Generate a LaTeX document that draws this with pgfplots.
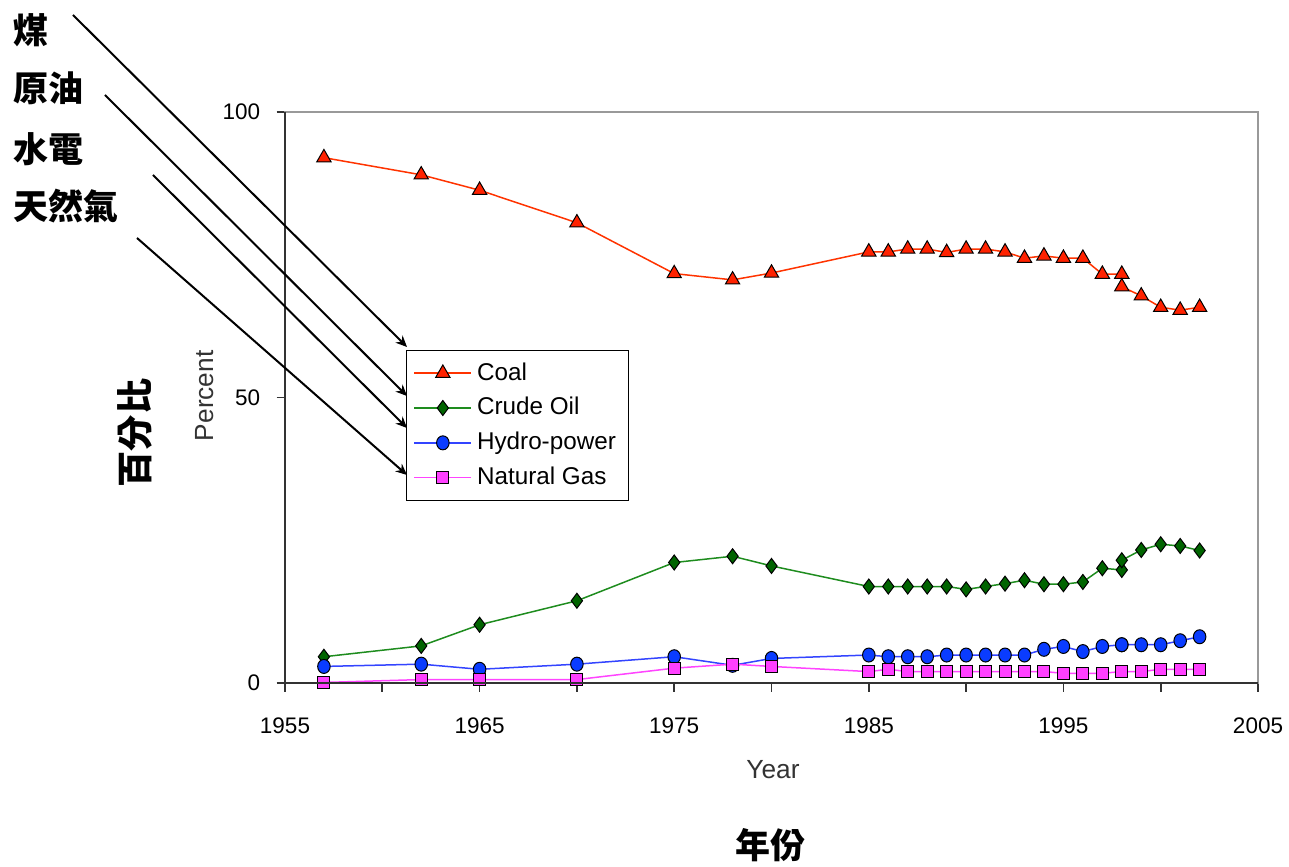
\documentclass[border=0pt]{standalone}
\usepackage{pgfplots}
\pgfplotsset{compat=1.18}
\usepackage{fontspec}
\setmainfont{Liberation Sans}
\newfontfamily\cjk{Noto Sans CJK TC}
\usetikzlibrary{arrows.meta}
\definecolor{coalline}{HTML}{FF3300}
\definecolor{coalfill}{HTML}{FF2200}
\definecolor{oilline}{HTML}{1E8C1E}
\definecolor{oilfill}{HTML}{006400}
\definecolor{hydroline}{HTML}{3344FF}
\definecolor{hydrofill}{HTML}{0A3CFF}
\definecolor{gasline}{HTML}{FF44FF}
\definecolor{gasfill}{HTML}{FF40FF}
\definecolor{framegray}{HTML}{999999}
\definecolor{axisdark}{HTML}{333333}
\begin{document}
\begin{tikzpicture}
\useasboundingbox (0,0) rectangle (515.6pt,-346.8pt);
\begin{axis}[
  at={(114pt,-273.2pt)}, anchor=south west,
  scale only axis, width=389.2pt, height=228.4pt,
  xmin=1955, xmax=2005, ymin=0, ymax=100,
  xtick={1955,1965,...,2005},
  minor xtick={1960,1970,...,2000},
  ytick={0,50,100},
  tick pos=left, tick align=outside,
  major tick length=3.4pt, minor tick length=3.4pt,
  every tick/.style={axisdark, line width=0.7pt},
  every minor tick/.style={axisdark, line width=0.7pt},
  /pgf/number format/assume math mode=true,
  /pgf/number format/1000 sep={},
  xticklabel style={font=\fontsize{9}{10}\selectfont, yshift=-7pt},
  yticklabel style={font=\fontsize{9}{10}\selectfont, xshift=-3pt},
  axis line style={framegray, line width=0.8pt},
  xlabel={Year}, ylabel={Percent},
  label style={font=\fontsize{10.5}{12}\selectfont, text=axisdark},
  xlabel style={at={(axis description cs:0.5015,-0.152)}, anchor=center},
  ylabel style={at={(axis description cs:-0.0822,0.503)}, anchor=center},
  clip mode=individual,
  legend cell align=left,
  legend style={at={(0.124,0.584)}, anchor=north west,
    font=\fontsize{9.7}{11.5}\selectfont, row sep=1.4pt, inner xsep=3pt, inner ysep=3pt},
  legend image code/.code={\draw[mark repeat=2,mark phase=2] plot coordinates {(0cm,0cm) (0.4cm,0cm) (0.8cm,0cm)};},
  after end axis/.code={
    \draw[axisdark, line width=0.8pt] (rel axis cs:0,1) -- (rel axis cs:0,0) -- (rel axis cs:1,0);
  },
]
\addplot[coalline, line width=0.6pt, mark=triangle*, mark size=3.3pt,
  mark options={fill=coalfill, draw=black, line width=0.4pt, solid}] coordinates {
  (1957,92.0) (1962,89.0) (1965,86.3) (1970,80.6) (1975,71.7) (1978,70.6) (1980,71.8)
  (1985,75.5) (1986,75.5) (1987,76.0) (1988,76.0) (1989,75.4) (1990,76.0) (1991,76.0)
  (1992,75.5) (1993,74.4) (1994,74.8) (1995,74.4) (1996,74.4) (1997,71.6) (1998,71.6)
  (1998,69.4) (1999,67.8) (2000,65.8) (2001,65.3) (2002,65.8)};
\addlegendentry{Coal}
\addplot[oilline, line width=0.6pt, mark=diamond*, mark size=3pt,
  mark options={fill=oilfill, draw=black, line width=0.4pt, solid}] coordinates {
  (1957,4.6) (1962,6.5) (1965,10.2) (1970,14.4) (1975,21.1) (1978,22.2) (1980,20.5)
  (1985,16.9) (1986,16.9) (1987,16.9) (1988,16.9) (1989,16.9) (1990,16.4) (1991,16.9)
  (1992,17.4) (1993,18.0) (1994,17.3) (1995,17.3) (1996,17.7) (1997,20.1) (1998,19.8)
  (1998,21.5) (1999,23.3) (2000,24.3) (2001,24.0) (2002,23.2)};
\addlegendentry{Crude Oil}
\addplot[hydroline, line width=0.6pt, mark=*, mark size=2.5pt,
  mark options={fill=hydrofill, draw=black, line width=0.4pt, solid, yscale=1.12}] coordinates {
  (1957,2.9) (1962,3.3) (1965,2.4) (1970,3.3) (1975,4.6) (1978,3.1) (1980,4.3)
  (1985,4.9) (1986,4.6) (1987,4.6) (1988,4.6) (1989,4.9) (1990,4.9) (1991,4.9)
  (1992,4.9) (1993,4.9) (1994,5.9) (1995,6.4) (1996,5.5) (1997,6.4) (1998,6.7)
  (1998,6.7) (1999,6.7) (2000,6.7) (2001,7.4) (2002,8.1)};
\addlegendentry{Hydro-power}
\addplot[gasline, line width=0.6pt, mark=square*, mark size=2.4pt,
  mark options={fill=gasfill, draw=black, line width=0.4pt, solid}] coordinates {
  (1957,0.1) (1962,0.6) (1965,0.6) (1970,0.6) (1975,2.6) (1978,3.3) (1980,2.9)
  (1985,2.0) (1986,2.4) (1987,2.0) (1988,2.0) (1989,2.0) (1990,2.0) (1991,2.0)
  (1992,2.0) (1993,2.0) (1994,2.0) (1995,1.7) (1996,1.7) (1997,1.7) (1998,2.0)
  (1998,2.0) (1999,2.0) (2000,2.4) (2001,2.4) (2002,2.4)};
\addlegendentry{Natural Gas}
\end{axis}
\begin{scope}[x=0.4pt, y=-0.4pt]
  \node[anchor=west, inner sep=0pt, font=\cjk\bfseries\fontsize{14}{16}\selectfont] at (13,30) {煤};
  \node[anchor=west, inner sep=0pt, font=\cjk\bfseries\fontsize{14}{16}\selectfont] at (13,88) {原油};
  \node[anchor=west, inner sep=0pt, font=\cjk\bfseries\fontsize{14}{16}\selectfont] at (13,149) {水電};
  \node[anchor=west, inner sep=0pt, font=\cjk\bfseries\fontsize{14}{16}\selectfont] at (13,206) {天然氣};
  \node[rotate=90, inner sep=0pt, font=\cjk\bfseries\fontsize{14.5}{16}\selectfont] at (135,433) {百分比};
  \node[inner sep=0pt, font=\cjk\bfseries\fontsize{14}{16}\selectfont] at (770,845) {年份};
  \draw[black, line width=0.8pt, -{Stealth[length=4.5pt,width=4pt]}] (73,15) -- (407,347);
  \draw[black, line width=0.8pt, -{Stealth[length=4.5pt,width=4pt]}] (105,95) -- (407,396);
  \draw[black, line width=0.8pt, -{Stealth[length=4.5pt,width=4pt]}] (153,175) -- (407,428);
  \draw[black, line width=0.8pt, -{Stealth[length=4.5pt,width=4pt]}] (137,238) -- (407,475);
\end{scope}
\end{tikzpicture}
\end{document}
